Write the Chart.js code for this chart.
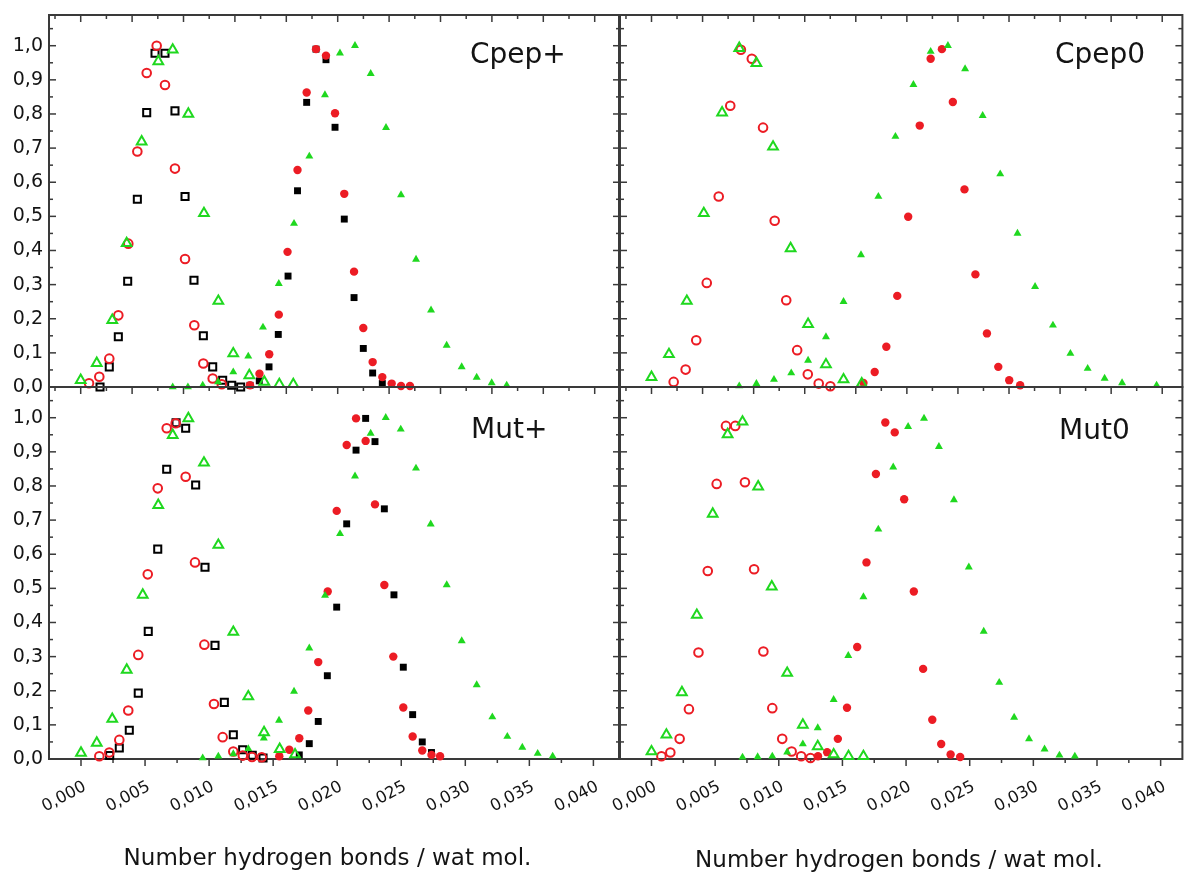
<!DOCTYPE html>
<html>
<head>
<meta charset="utf-8">
<script src="https://cdn.jsdelivr.net/npm/chart.js@4/dist/chart.umd.min.js"></script>
<style>
  html, body { margin: 0; padding: 0; background: #ffffff; }
  #wrap { position: relative; width: 1190px; height: 878px; background: #ffffff; }
  canvas { position: absolute; left: 0; top: 0; }
</style>
</head>
<body>
<div id="wrap">
  <canvas id="cTL" width="1190" height="878"></canvas>
  <canvas id="cTR" width="1190" height="878"></canvas>
  <canvas id="cBL" width="1190" height="878"></canvas>
  <canvas id="cBR" width="1190" height="878"></canvas>
</div>
<script>
// ---------------- text ----------------
const panelLabels = ['Cpep+', 'Cpep0', 'Mut+', 'Mut0'];
const axisTitle = 'Number hydrogen bonds / wat mol.';
const xTickLabels = ['0,000', '0,005', '0,010', '0,015', '0,020', '0,025', '0,030', '0,035', '0,040'];
const yTickLabels = ['0,0', '0,1', '0,2', '0,3', '0,4', '0,5', '0,6', '0,7', '0,8', '0,9', '1,0'];

// ---------------- Cpep+ (top left) ----------------
const cpepPlusOpenSquaresX = [0.00188,0.00278,0.00366,0.00457,0.00551,0.00642,0.00723,0.00820,0.00917,0.01015,0.01102,0.01193,0.01284,0.01381,0.01469,0.01556];
const cpepPlusOpenSquaresY = [0.0,0.059,0.147,0.31,0.55,0.804,0.978,0.978,0.809,0.558,0.313,0.15,0.059,0.02,0.005,0.0];
const cpepPlusOpenCirclesX = [0.00081,0.00181,0.00278,0.00366,0.00463,0.00551,0.00642,0.00739,0.00820,0.00917,0.01015,0.01105,0.01193,0.01284,0.01372];
const cpepPlusOpenCirclesY = [0.011,0.03,0.083,0.21,0.42,0.69,0.92,1.0,0.885,0.64,0.375,0.181,0.069,0.025,0.008];
const cpepPlusOpenTrianglesX = [0.0,0.00156,0.00307,0.00447,0.00593,0.00755,0.00895,0.01047,0.01199,0.01339,0.01484,0.01640,0.01786,0.01932,0.02068];
const cpepPlusOpenTrianglesY = [0.02,0.07,0.196,0.421,0.719,0.954,0.988,0.80,0.509,0.252,0.098,0.034,0.015,0.008,0.008];
const cpepPlusFilledTrianglesX = [0.00895,0.01043,0.01187,0.01336,0.01484,0.01630,0.01773,0.01927,0.02075,0.02224,0.02376,0.02522,0.02668,0.02821,0.02970,0.03116,0.03262,0.03408,0.03560,0.03706,0.03852,0.03998,0.04144];
const cpepPlusFilledTrianglesY = [0.0,0.0,0.005,0.015,0.044,0.09,0.175,0.303,0.479,0.676,0.856,0.978,1.0,0.918,0.76,0.563,0.374,0.225,0.122,0.059,0.028,0.012,0.005];
const cpepPlusFilledCirclesX = [0.01647,0.01739,0.01834,0.01927,0.02012,0.02109,0.02198,0.02289,0.02386,0.02474,0.02564,0.02659,0.02749,0.02840,0.02934,0.03025,0.03116,0.03203];
const cpepPlusFilledCirclesY = [0.005,0.039,0.096,0.212,0.396,0.636,0.863,0.99,0.971,0.802,0.566,0.338,0.173,0.073,0.029,0.01,0.003,0.003];
const cpepPlusFilledSquaresX = [0.01647,0.01737,0.01832,0.01922,0.02017,0.02109,0.02198,0.02289,0.02386,0.02474,0.02564,0.02659,0.02749,0.02840,0.02934];
const cpepPlusFilledSquaresY = [0.005,0.018,0.059,0.154,0.325,0.575,0.834,0.99,0.959,0.761,0.492,0.262,0.113,0.041,0.01];

// ---------------- Cpep0 (top right) ----------------
const cpep0OpenCirclesX = [0.00217,0.00334,0.00438,0.00541,0.00658,0.00771,0.00875,0.00982,0.01092,0.01206,0.01319,0.01426,0.01530,0.01637,0.01751];
const cpep0OpenCirclesY = [0.015,0.051,0.137,0.305,0.558,0.824,0.988,0.962,0.76,0.487,0.254,0.108,0.037,0.01,0.002];
const cpep0OpenTrianglesX = [0.0,0.00171,0.00346,0.00512,0.00691,0.00859,0.01027,0.01190,0.01362,0.01533,0.01708,0.01880,0.02058];
const cpep0OpenTrianglesY = [0.029,0.096,0.252,0.509,0.804,0.993,0.949,0.704,0.406,0.184,0.066,0.022,0.01];
const cpep0FilledTrianglesX = [0.00859,0.01027,0.01199,0.01368,0.01533,0.01708,0.01880,0.02051,0.02221,0.02388,0.02564,0.02733,0.02902,0.03070,0.03242,0.03414,0.03583,0.03755,0.03930,0.04101,0.04270,0.04436,0.04607,0.04945];
const cpep0FilledTrianglesY = [0.003,0.01,0.022,0.041,0.078,0.147,0.25,0.387,0.558,0.734,0.886,0.983,1.0,0.932,0.795,0.624,0.45,0.294,0.181,0.098,0.054,0.025,0.012,0.005];
const cpep0FilledCirclesX = [0.02075,0.02185,0.02299,0.02406,0.02513,0.02626,0.02733,0.02843,0.02950,0.03064,0.03171,0.03284,0.03395,0.03502,0.03609];
const cpep0FilledCirclesY = [0.012,0.044,0.118,0.267,0.499,0.766,0.962,0.99,0.835,0.579,0.33,0.157,0.059,0.02,0.005];

// ---------------- Mut+ (bottom left) ----------------
const mutPlusOpenSquaresX = [0.00224,0.00299,0.00377,0.00447,0.00525,0.00599,0.00669,0.00742,0.00817,0.00895,0.00968,0.01046,0.01119,0.01189,0.01262,0.01337,0.01421];
const mutPlusOpenSquaresY = [0.01,0.032,0.084,0.193,0.374,0.615,0.849,0.985,0.969,0.803,0.562,0.333,0.166,0.071,0.027,0.011,0.003];
const mutPlusOpenCirclesX = [0.00143,0.00221,0.00299,0.00369,0.00447,0.00521,0.00599,0.00669,0.00739,0.00817,0.00890,0.00963,0.01038,0.01106,0.01189,0.01263,0.01335,0.01411];
const mutPlusOpenCirclesY = [0.008,0.019,0.056,0.142,0.305,0.541,0.793,0.969,0.984,0.827,0.576,0.335,0.161,0.064,0.022,0.01,0.006,0.005];
const mutPlusOpenTrianglesX = [0.0,0.00123,0.00244,0.00357,0.00482,0.00603,0.00716,0.00838,0.00960,0.01072,0.01189,0.01306,0.01429,0.01551,0.01671];
const mutPlusOpenTrianglesY = [0.018,0.047,0.117,0.261,0.481,0.744,0.949,0.998,0.868,0.627,0.372,0.183,0.078,0.029,0.013];
const mutPlusFilledTrianglesX = [0.00950,0.01072,0.01189,0.01306,0.01427,0.01546,0.01663,0.01782,0.01905,0.02022,0.02139,0.02261,0.02379,0.02496,0.02615,0.02730,0.02855,0.02972,0.03089,0.03211,0.03328,0.03445,0.03565,0.03682];
const mutPlusFilledTrianglesY = [0.003,0.008,0.015,0.03,0.061,0.113,0.198,0.325,0.479,0.66,0.829,0.954,1.0,0.966,0.852,0.688,0.51,0.346,0.217,0.123,0.066,0.034,0.016,0.008];
const mutPlusFilledCirclesX = [0.01548,0.01626,0.01704,0.01774,0.01852,0.01926,0.01996,0.02074,0.02147,0.02222,0.02295,0.02368,0.02438,0.02516,0.02589,0.02664,0.02736,0.02803];
const mutPlusFilledCirclesY = [0.008,0.027,0.061,0.142,0.284,0.491,0.727,0.92,0.998,0.932,0.746,0.51,0.30,0.151,0.066,0.025,0.012,0.008];
const mutPlusFilledSquaresX = [0.01704,0.01782,0.01852,0.01923,0.01996,0.02074,0.02147,0.02222,0.02295,0.02368,0.02443,0.02516,0.02589,0.02664,0.02736];
const mutPlusFilledSquaresY = [0.012,0.045,0.11,0.244,0.445,0.689,0.905,0.998,0.93,0.733,0.481,0.269,0.13,0.05,0.019];

// ---------------- Mut0 (bottom right) ----------------
const mut0OpenCirclesX = [0.00078,0.00148,0.00221,0.00294,0.00369,0.00442,0.00512,0.00585,0.00658,0.00734,0.00806,0.00879,0.00949,0.01027,0.01101,0.01176,0.01249];
const mut0OpenCirclesY = [0.008,0.019,0.059,0.146,0.312,0.551,0.806,0.976,0.976,0.811,0.556,0.315,0.149,0.059,0.022,0.008,0.003];
const mut0OpenTrianglesX = [0.0,0.00117,0.00239,0.00356,0.00481,0.00598,0.00715,0.00838,0.00945,0.01066,0.01189,0.01306,0.01431,0.01548,0.01665];
const mut0OpenTrianglesY = [0.022,0.071,0.195,0.422,0.718,0.951,0.988,0.798,0.505,0.252,0.10,0.037,0.013,0.008,0.008];
const mut0FilledTrianglesX = [0.00715,0.00834,0.00949,0.01066,0.01189,0.01306,0.01431,0.01546,0.01665,0.01782,0.01899,0.02016,0.02141,0.02258,0.02376,0.02493,0.02610,0.02732,0.02849,0.02966,0.03088,0.03205,0.03326];
const mut0FilledTrianglesY = [0.005,0.006,0.008,0.02,0.044,0.091,0.174,0.303,0.475,0.673,0.855,0.974,0.998,0.915,0.759,0.562,0.374,0.224,0.122,0.059,0.029,0.011,0.008];
const mut0FilledCirclesX = [0.01308,0.01380,0.01464,0.01536,0.01616,0.01689,0.01763,0.01837,0.01911,0.01985,0.02061,0.02134,0.02206,0.02276,0.02350,0.02425];
const mut0FilledCirclesY = [0.008,0.02,0.059,0.15,0.328,0.576,0.835,0.986,0.957,0.761,0.491,0.264,0.115,0.044,0.013,0.006];

// ---------------- styling ----------------
const RED = '#ec1c24';
const GREEN = '#1fd81f';
const BLACK = '#000000';
const FRAME = '#3a3a3a';
const TEXT = '#141414';
const FONT = '"DejaVu Sans", "Liberation Sans", sans-serif';

const pts = (xs, ys) => xs.map((x, i) => ({ x: x, y: ys[i] }));

const marker = {
  openSquare:    c => ({ pointStyle: 'rect', pointRadius: 5, pointBorderWidth: 2, pointBorderColor: c, pointBackgroundColor: 'rgba(0,0,0,0)' }),
  filledSquare:  c => ({ pointStyle: 'rect', pointRadius: 4.9, pointBorderWidth: 0, pointBorderColor: c, pointBackgroundColor: c }),
  openCircle:    c => ({ pointStyle: 'circle', pointRadius: 4.3, pointBorderWidth: 2, pointBorderColor: c, pointBackgroundColor: 'rgba(0,0,0,0)' }),
  filledCircle:  c => ({ pointStyle: 'circle', pointRadius: 4.2, pointBorderWidth: 0, pointBorderColor: c, pointBackgroundColor: c }),
  openTriangle:  c => ({ pointStyle: 'triangle', pointRadius: 5.6, pointBorderWidth: 2, pointBorderColor: c, pointBackgroundColor: 'rgba(0,0,0,0)' }),
  filledTriangle:c => ({ pointStyle: 'triangle', pointRadius: 4.6, pointBorderWidth: 0, pointBorderColor: c, pointBackgroundColor: c })
};

function ds(label, xs, ys, style) {
  return Object.assign({ label: label, data: pts(xs, ys), showLine: false, clip: false, pointHoverRadius: style.pointRadius }, style);
}

// frame, minor/major tick marks and panel label, positioned through the chart's scales
const panelPlugin = {
  id: 'panelFrame',
  beforeDatasetsDraw(chart, args, o) {
    const { ctx, chartArea: a } = chart;
    const xs = chart.scales.x, ys = chart.scales.y;
    ctx.save();
    ctx.strokeStyle = FRAME;
    ctx.lineWidth = 1.5;
    const seg = (x1, y1, x2, y2) => { ctx.beginPath(); ctx.moveTo(x1, y1); ctx.lineTo(x2, y2); ctx.stroke(); };
    for (let k = Math.ceil(xs.min / 0.0025); k * 0.0025 <= xs.max + 1e-9; k++) {
      const px = xs.getPixelForValue(k * 0.0025);
      const L = (k % 2 === 0) ? 7 : 4;
      if (o.xTop === 'down') seg(px, a.top, px, a.top + L);
      if (o.xBottom === 'down') seg(px, a.bottom, px, a.bottom + L);
    }
    for (let k = 0; k * 0.05 <= ys.max + 1e-9; k++) {
      const py = ys.getPixelForValue(k * 0.05);
      const L = (k % 2 === 0) ? 7 : 4;
      if (o.yLeft === 'in') seg(a.left, py, a.left + L, py);
      if (o.yLeft === 'cross') seg(a.left - L, py, a.left + L, py);
      if (o.yRight === 'in') seg(a.right - L, py, a.right, py);
    }
    ctx.lineWidth = 2;
    ctx.strokeRect(a.left, a.top, a.right - a.left, a.bottom - a.top);
    ctx.restore();
  },
  afterDraw(chart, args, o) {
    const ctx = chart.ctx;
    ctx.save();
    ctx.fillStyle = TEXT;
    ctx.font = '28px ' + FONT;
    ctx.textAlign = 'left';
    ctx.textBaseline = 'alphabetic';
    ctx.fillText(o.label, o.labelX, o.labelY);
    ctx.restore();
  }
};

function noPad(s) { s.paddingTop = 0; s.paddingBottom = 0; s.paddingLeft = 0; s.paddingRight = 0; }

function makeChart(id, cfg) {
  const xTicks = cfg.xLabels ? {
    display: true, stepSize: 0.005, includeBounds: false, autoSkip: false,
    minRotation: 28, maxRotation: 28, padding: 18, labelOffset: 4,
    color: TEXT, font: { family: FONT, size: 16.5 },
    callback: v => { const s = xTickLabels[Math.round(v / 0.005)]; return s === undefined ? '' : s; }
  } : { display: false, stepSize: 0.005, includeBounds: false };
  const yTicks = cfg.yLabels ? {
    display: true, stepSize: 0.1, includeBounds: false, autoSkip: false, padding: 6,
    color: TEXT, font: { family: FONT, size: 19 },
    callback: v => { const s = yTickLabels[Math.round(v / 0.1)]; return s === undefined ? '' : s; }
  } : { display: false, stepSize: 0.1, includeBounds: false };

  const scales = {
    x: {
      type: 'linear', position: 'bottom', min: cfg.xMin, max: cfg.xMax,
      grid: { display: false, drawTicks: false }, border: { display: false },
      ticks: xTicks,
      afterFit: s => { s.height = cfg.xHeight; noPad(s); }
    },
    y: {
      type: 'linear', position: 'left', min: 0, max: 1.09,
      grid: { display: false, drawTicks: false }, border: { display: false },
      ticks: yTicks,
      afterFit: s => { s.width = cfg.yWidth; noPad(s); }
    }
  };
  if (cfg.rightSpacer) {
    // empty right-hand axis that only reserves room, so the bottom title can be centred freely
    scales.ySpacer = {
      type: 'linear', position: 'right', min: 0, max: 1.09, display: true,
      grid: { display: false, drawTicks: false }, border: { display: false },
      ticks: { display: false },
      afterFit: s => { s.width = cfg.rightSpacer; noPad(s); }
    };
  }

  return new Chart(document.getElementById(id), {
    type: 'scatter',
    data: { datasets: cfg.datasets },
    options: {
      responsive: false,
      animation: false,
      events: [],
      layout: { padding: cfg.padding },
      plugins: {
        legend: { display: false },
        tooltip: { enabled: false },
        title: cfg.title ? {
          display: true, position: 'bottom', text: axisTitle, color: TEXT,
          font: { family: FONT, size: 23, weight: 'normal', lineHeight: 1.2 },
          padding: { top: 0, bottom: cfg.titlePadBottom }
        } : { display: false },
        panelFrame: cfg.frame
      },
      scales: scales
    },
    plugins: [panelPlugin]
  });
}

// top left: Cpep+
makeChart('cTL', {
  padding: { left: 0, right: 571, top: 15, bottom: 491 },
  xMin: -0.003084, xMax: 0.052364, xHeight: 0, yWidth: 49,
  xLabels: false, yLabels: true, title: false,
  frame: { xTop: 'down', xBottom: 'down', yLeft: 'in', yRight: 'none', label: panelLabels[0], labelX: 470, labelY: 63 },
  datasets: [
    ds('Cpep+ filled triangles', cpepPlusFilledTrianglesX, cpepPlusFilledTrianglesY, marker.filledTriangle(GREEN)),
    ds('Cpep+ open triangles', cpepPlusOpenTrianglesX, cpepPlusOpenTrianglesY, marker.openTriangle(GREEN)),
    ds('Cpep+ filled circles', cpepPlusFilledCirclesX, cpepPlusFilledCirclesY, marker.filledCircle(RED)),
    ds('Cpep+ open circles', cpepPlusOpenCirclesX, cpepPlusOpenCirclesY, marker.openCircle(RED)),
    ds('Cpep+ filled squares', cpepPlusFilledSquaresX, cpepPlusFilledSquaresY, marker.filledSquare(BLACK)),
    ds('Cpep+ open squares', cpepPlusOpenSquaresX, cpepPlusOpenSquaresY, marker.openSquare(BLACK))
  ]
});

// top right: Cpep0
makeChart('cTR', {
  padding: { left: 600, right: 4, top: 15, bottom: 491 },
  xMin: -0.003084, xMax: 0.051975, xHeight: 0, yWidth: 20,
  xLabels: false, yLabels: false, title: false,
  frame: { xTop: 'down', xBottom: 'down', yLeft: 'cross', yRight: 'in', label: panelLabels[1], labelX: 1055, labelY: 63 },
  datasets: [
    ds('Cpep0 filled triangles', cpep0FilledTrianglesX, cpep0FilledTrianglesY, marker.filledTriangle(GREEN)),
    ds('Cpep0 open triangles', cpep0OpenTrianglesX, cpep0OpenTrianglesY, marker.openTriangle(GREEN)),
    ds('Cpep0 filled circles', cpep0FilledCirclesX, cpep0FilledCirclesY, marker.filledCircle(RED)),
    ds('Cpep0 open circles', cpep0OpenCirclesX, cpep0OpenCirclesY, marker.openCircle(RED))
  ]
});

// bottom left: Mut+
makeChart('cBL', {
  padding: { left: 0, right: 535, top: 387, bottom: 0 },
  rightSpacer: 36,
  xMin: -0.002498, xMax: 0.041998, xHeight: 86.2, yWidth: 49,
  xLabels: true, yLabels: true, title: true, titlePadBottom: 5.2,
  frame: { xTop: 'none', xBottom: 'down', yLeft: 'in', yRight: 'none', label: panelLabels[2], labelX: 471, labelY: 438 },
  datasets: [
    ds('Mut+ filled triangles', mutPlusFilledTrianglesX, mutPlusFilledTrianglesY, marker.filledTriangle(GREEN)),
    ds('Mut+ open triangles', mutPlusOpenTrianglesX, mutPlusOpenTrianglesY, marker.openTriangle(GREEN)),
    ds('Mut+ filled circles', mutPlusFilledCirclesX, mutPlusFilledCirclesY, marker.filledCircle(RED)),
    ds('Mut+ open circles', mutPlusOpenCirclesX, mutPlusOpenCirclesY, marker.openCircle(RED)),
    ds('Mut+ filled squares', mutPlusFilledSquaresX, mutPlusFilledSquaresY, marker.filledSquare(BLACK)),
    ds('Mut+ open squares', mutPlusOpenSquaresX, mutPlusOpenSquaresY, marker.openSquare(BLACK))
  ]
});

// bottom right: Mut0
makeChart('cBR', {
  padding: { left: 612, right: 4, top: 387, bottom: 0 },
  xMin: -0.002475, xMax: 0.04171, xHeight: 88.2, yWidth: 8,
  xLabels: true, yLabels: false, title: true, titlePadBottom: 3.2,
  frame: { xTop: 'none', xBottom: 'down', yLeft: 'cross', yRight: 'in', label: panelLabels[3], labelX: 1059, labelY: 439 },
  datasets: [
    ds('Mut0 filled triangles', mut0FilledTrianglesX, mut0FilledTrianglesY, marker.filledTriangle(GREEN)),
    ds('Mut0 open triangles', mut0OpenTrianglesX, mut0OpenTrianglesY, marker.openTriangle(GREEN)),
    ds('Mut0 filled circles', mut0FilledCirclesX, mut0FilledCirclesY, marker.filledCircle(RED)),
    ds('Mut0 open circles', mut0OpenCirclesX, mut0OpenCirclesY, marker.openCircle(RED))
  ]
});
</script>
</body>
</html>
